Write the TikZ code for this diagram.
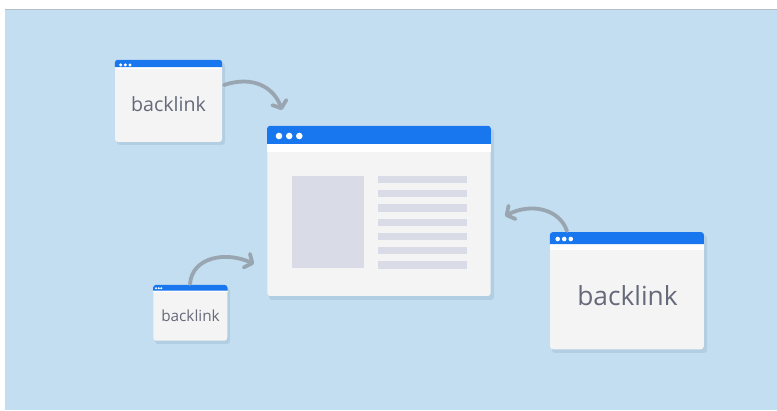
\documentclass[tikz,border=0pt]{standalone}
\usepackage{fontspec}
\setmainfont{Open Sans}
\usetikzlibrary{arrows.meta}
\definecolor{bgblue}{HTML}{C3DEF0}
\definecolor{barblue}{HTML}{1877EE}
\definecolor{winbody}{HTML}{F4F4F4}
\definecolor{blockgray}{HTML}{D9DCE6}
\definecolor{arrowgray}{HTML}{99A6B1}
\definecolor{txtgray}{HTML}{656979}
\definecolor{shadowc}{HTML}{A8C4D9}
\definecolor{topline}{HTML}{B4BDC4}
\tikzset{
  win/.style={fill=winbody, rounded corners=3pt, inner sep=0pt, draw=none},
  winshadow/.style={fill=shadowc, rounded corners=3pt, opacity=0.6},
  dot/.style={circle, fill=white, inner sep=0pt},
  label/.style={text=txtgray, inner sep=0pt},
  link/.style={draw=arrowgray, line width=3.8pt, line cap=round,
    -{Straight Barb[length=6pt, width=15pt, round]}},
  block/.style={fill=blockgray}
}
\newcommand{\winbar}[2]{% node, bar height
  \fill[barblue] ([yshift=-#2]#1.north west)
    {[rounded corners=3pt] -- (#1.north west) -- (#1.north east)}
    -- ([yshift=-#2]#1.north east) -- cycle;}
\newcommand{\winstrip}[3]{% node, bar height, strip height
  \fill[white] ([yshift=-#2]#1.north west) rectangle ([yshift=-#2-#3]#1.north east);}
\begin{document}
\begin{tikzpicture}[x=1pt, y=-1pt]
\useasboundingbox (0,0) rectangle (777,411);
% background
\fill[bgblue] (5,9) rectangle (777,410);
\draw[topline, line width=0.8pt] (5,9) -- (777,9);

% shadows
\fill[winshadow] (117,63) rectangle (225,145);
\fill[winshadow] (269,129) rectangle (494,300);
\fill[winshadow] (155,288) rectangle (230,344);
\fill[winshadow] (552,235) rectangle (707,353);

% window 1 (top left)
\node[win, minimum width=107pt, minimum height=82pt] (w1) at (168.5,101) {};
\winstrip{w1}{7.3pt}{2pt}
\winbar{w1}{7.3pt}
\node[dot, minimum size=3.4pt] (w1d1) at (120.7,65) {};
\node[dot, minimum size=3.4pt] (w1d2) at (125.3,65) {};
\node[dot, minimum size=3.4pt] (w1d3) at (130,65) {};
\node[label, font=\fontsize{19.6}{22}\selectfont] (t1) at (168.5,104) {backlink};

% main window
\node[win, minimum width=223.4pt, minimum height=170pt] (m) at (379,211) {};
\winstrip{m}{18pt}{8.7pt}
\winbar{m}{18pt}
\node[dot, minimum size=6.6pt] (md1) at (279,136) {};
\node[dot, minimum size=6.6pt] (md2) at (289.2,136) {};
\node[dot, minimum size=6.6pt] (md3) at (299.3,136) {};
\node[block, inner sep=0pt, minimum width=72pt, minimum height=92.3pt] (img) at (328.3,222.2) {};
\foreach \i in {0,...,6}{
  \node[block, inner sep=0pt, minimum width=89.6pt, minimum height=7.2pt] (ln\i) at (422.5,{179.6+14.25*\i}) {};
}

% window 2 (bottom left, small)
\node[win, minimum width=74pt, minimum height=55.7pt] (w2) at (190.3,312.9) {};
\winstrip{w2}{5.7pt}{1.5pt}
\winbar{w2}{5.7pt}
\node[dot, minimum size=2.2pt] (w2d1) at (156,288.3) {};
\node[dot, minimum size=2.2pt] (w2d2) at (158.7,288.3) {};
\node[dot, minimum size=2.2pt] (w2d3) at (161.3,288.3) {};
\node[label, font=\fontsize{15.3}{18}\selectfont] (t2) at (190.5,315.5) {backlink};

% window 3 (right, large)
\node[win, minimum width=153.7pt, minimum height=117pt] (w3) at (626.9,290.8) {};
\winstrip{w3}{12pt}{5.7pt}
\winbar{w3}{12pt}
\node[dot, minimum size=4.6pt] (w3d1) at (557.7,239) {};
\node[dot, minimum size=4.6pt] (w3d2) at (564.2,239) {};
\node[dot, minimum size=4.6pt] (w3d3) at (570.8,239) {};
\node[label, font=\fontsize{26.3}{30}\selectfont] (t3) at (627.5,296) {backlink};

% connector end points
\coordinate (a1s) at (224,85);
\coordinate (a1e) at (282,110);
\coordinate (a2s) at (190,284);
\coordinate (a2e) at (254,264);
\coordinate (a3s) at (567,231);
\coordinate (a3e) at (505,216);

\draw[link] (a1s) .. controls (254,75) and (274,88) .. (a1e);
\draw[link] (a2s) .. controls (192,257) and (226,251) .. (a2e);
\draw[link] (a3s) .. controls (559,208) and (530,203) .. (a3e);
\end{tikzpicture}
\end{document}
